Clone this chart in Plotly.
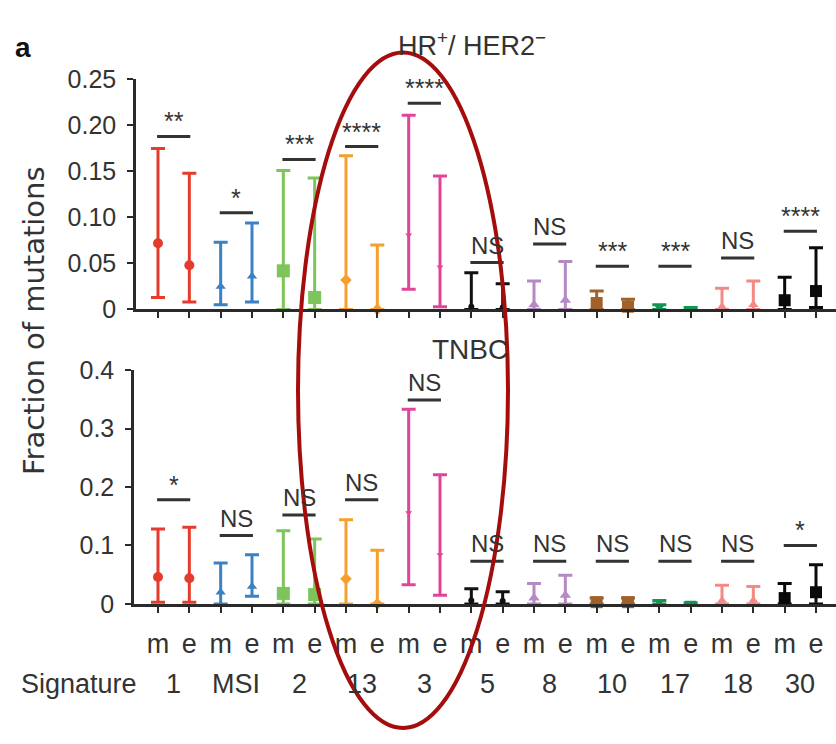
import plotly.graph_objects as go

W, H = 836, 744

# Signature groups, each with a metastatic (m) and early (e) sample
signatures = ["1", "MSI", "2", "13", "3", "5", "8", "10", "17", "18", "30"]
sample_labels = ["m", "e"]

colors = ["#e53b2c", "#3b82c4", "#7dc45b", "#f5a02c", "#e2449a", "#111111",
          "#b48ac4", "#a0612b", "#129650", "#f28a85", "#0a0a0a"]
symbols = ["circle", "triangle-up", "square", "diamond", "triangle-down", "circle",
           "triangle-up", "square", "triangle-down", "triangle-up", "square"]
marker_sizes = [10, 9, 13, 9, 6, 6, 10, 12, 10, 9, 12]

# HR+/HER2- : median, lower and upper bound per signature
hr_m_med = [0.072, 0.025, 0.042, 0.032, 0.081, 0.003, 0.005, 0.007, 0.003, 0.003, 0.010]
hr_m_lo = [0.013, 0.005, 0.0, 0.0, 0.022, 0.0, 0.0, 0.0, 0.0, 0.0, 0.0]
hr_m_hi = [0.175, 0.073, 0.151, 0.167, 0.211, 0.040, 0.031, 0.020, 0.005, 0.023, 0.035]
hr_e_med = [0.048, 0.036, 0.013, 0.0, 0.046, 0.002, 0.010, 0.003, 0.001, 0.005, 0.020]
hr_e_lo = [0.008, 0.008, 0.0, 0.0, 0.003, 0.0, 0.0, 0.0, 0.0, 0.0, 0.002]
hr_e_hi = [0.148, 0.094, 0.143, 0.070, 0.145, 0.028, 0.052, 0.011, 0.002, 0.031, 0.067]
hr_sig = ["**", "*", "***", "****", "****", "NS", "NS", "***", "***", "NS", "****"]
hr_sig_y = [0.188, 0.105, 0.163, 0.177, 0.224, 0.051, 0.071, 0.047, 0.047, 0.056, 0.085]

# TNBC
tn_m_med = [0.046, 0.020, 0.018, 0.043, 0.156, 0.006, 0.010, 0.003, 0.004, 0.006, 0.010]
tn_m_lo = [0.003, 0.0, 0.0, 0.0, 0.033, 0.0, 0.0, 0.0, 0.0, 0.0, 0.0]
tn_m_hi = [0.128, 0.070, 0.125, 0.144, 0.333, 0.026, 0.035, 0.010, 0.006, 0.032, 0.035]
tn_e_med = [0.044, 0.030, 0.016, 0.0, 0.084, 0.005, 0.015, 0.003, 0.001, 0.006, 0.020]
tn_e_lo = [0.003, 0.013, 0.0, 0.0, 0.015, 0.0, 0.0, 0.0, 0.0, 0.0, 0.0]
tn_e_hi = [0.131, 0.084, 0.111, 0.092, 0.221, 0.021, 0.049, 0.010, 0.002, 0.030, 0.067]
tn_sig = ["*", "NS", "NS", "NS", "NS", "NS", "NS", "NS", "NS", "NS", "*"]
tn_sig_y = [0.178, 0.117, 0.152, 0.178, 0.349, 0.073, 0.073, 0.073, 0.073, 0.073, 0.100]

hr_yticks = [0, 0.05, 0.10, 0.15, 0.20, 0.25]
hr_yticktext = ["0", "0.05", "0.10", "0.15", "0.20", "0.25"]
tn_yticks = [0, 0.1, 0.2, 0.3, 0.4]
tn_yticktext = ["0", "0.1", "0.2", "0.3", "0.4"]

FONT = "Liberation Sans, Arial, sans-serif"
AXIS_COL = "#2a2a2a"
TEXT_COL = "#333333"


def px_x(x):
    return x / W


def px_y(y):
    return 1 - y / H


fig = go.Figure()
annotations = []

panels = [
    ("x", "y", hr_m_med, hr_m_lo, hr_m_hi, hr_e_med, hr_e_lo, hr_e_hi, hr_sig, hr_sig_y),
    ("x2", "y2", tn_m_med, tn_m_lo, tn_m_hi, tn_e_med, tn_e_lo, tn_e_hi, tn_sig, tn_sig_y),
]

for xa, ya, m_med, m_lo, m_hi, e_med, e_lo, e_hi, sig, sig_y in panels:
    for i, name in enumerate(signatures):
        xs = [2 * i, 2 * i + 1]
        med = [m_med[i], e_med[i]]
        lo = [m_lo[i], e_lo[i]]
        hi = [m_hi[i], e_hi[i]]
        fig.add_trace(go.Scatter(
            x=xs, y=med, mode="markers", xaxis=xa, yaxis=ya,
            name=name, showlegend=False, cliponaxis=False,
            marker=dict(symbol=symbols[i], size=marker_sizes[i], color=colors[i],
                        line=dict(width=0)),
            error_y=dict(type="data", symmetric=False,
                         array=[h - m for h, m in zip(hi, med)],
                         arrayminus=[m - l for m, l in zip(med, lo)],
                         color=colors[i], thickness=3, width=7),
        ))
        # significance bar between the paired samples
        fig.add_trace(go.Scatter(
            x=[2 * i - 0.03, 2 * i + 1.03], y=[sig_y[i], sig_y[i]],
            mode="lines", xaxis=xa, yaxis=ya, showlegend=False, cliponaxis=False,
            line=dict(color=TEXT_COL, width=3), hoverinfo="skip",
        ))
        is_ns = sig[i] == "NS"
        annotations.append(dict(
            x=2 * i + 0.5, y=sig_y[i], xref=xa, yref=ya, text=sig[i],
            showarrow=False, yanchor="bottom", xanchor="center",
            yshift=2 if is_ns else -1,
            font=dict(family=FONT, size=24 if is_ns else 25, color=TEXT_COL),
        ))

# group labels under the lower panel
for i, name in enumerate(signatures):
    annotations.append(dict(
        x=2 * i + 0.5, y=px_y(696), xref="x2", yref="paper", text=name,
        showarrow=False, xanchor="center", yanchor="middle",
        font=dict(family=FONT, size=27, color=TEXT_COL),
    ))
annotations.append(dict(
    x=px_x(79), y=px_y(696), xref="paper", yref="paper", text="Signature",
    showarrow=False, xanchor="center", yanchor="middle",
    font=dict(family=FONT, size=27, color=TEXT_COL),
))

# panel titles, panel letter and shared y title
annotations += [
    dict(x=px_x(396), y=px_y(31), xref="paper", yref="paper",
         text="HR<sup>+</sup>/ HER2<sup>\u2212</sup>", showarrow=False,
         xanchor="left", yanchor="middle",
         font=dict(family=FONT, size=27, color=TEXT_COL)),
    dict(x=px_x(430), y=px_y(349), xref="paper", yref="paper", text="TNBC",
         showarrow=False, xanchor="left", yanchor="middle",
         font=dict(family=FONT, size=28, color=TEXT_COL)),
    dict(x=px_x(23), y=px_y(35), xref="paper", yref="paper", text="<b>a</b>",
         showarrow=False, xanchor="center", yanchor="middle",
         font=dict(family=FONT, size=28, color="#111111")),
    dict(x=px_x(34), y=px_y(319), xref="paper", yref="paper",
         text="Fraction of mutations", showarrow=False, textangle=-90,
         xanchor="center", yanchor="middle",
         font=dict(family="DejaVu Sans, sans-serif", size=29, color=TEXT_COL)),
]

n_pos = 2 * len(signatures)
unit = (816 - 158) / (n_pos - 1)
x_right = (n_pos - 1) + (836 - 816) / unit

common_x = dict(
    showline=True, linecolor=AXIS_COL, linewidth=2.5, ticks="outside",
    ticklen=6, tickwidth=2, tickcolor=AXIS_COL, showgrid=False, zeroline=False,
    tickvals=list(range(n_pos)), fixedrange=True,
)
common_y = dict(
    showline=True, linecolor=AXIS_COL, linewidth=2.5, ticks="outside",
    ticklen=6, tickwidth=2, tickcolor=AXIS_COL, showgrid=False, zeroline=False,
    tickfont=dict(family=FONT, size=25, color=TEXT_COL), ticklabelstandoff=6,
    fixedrange=True,
)

fig.update_layout(
    width=W, height=H, margin=dict(l=0, r=0, t=0, b=0),
    paper_bgcolor="white", plot_bgcolor="white", showlegend=False,
    xaxis=dict(common_x, domain=[px_x(136), 1], range=[-(158 - 136) / unit, x_right],
               anchor="y", showticklabels=False),
    yaxis=dict(common_y, domain=[px_y(307), px_y(68)], range=[0, 0.25],
               tickvals=hr_yticks, ticktext=hr_yticktext, anchor="x"),
    xaxis2=dict(common_x, domain=[px_x(134), 1], range=[-(158 - 134) / unit, x_right],
                anchor="y2", showticklabels=True,
                ticktext=sample_labels * len(signatures), ticklabelstandoff=8,
                tickfont=dict(family=FONT, size=27, color=TEXT_COL)),
    yaxis2=dict(common_y, domain=[px_y(613), px_y(370)], range=[0, 0.4],
                tickvals=tn_yticks, ticktext=tn_yticktext, anchor="x2"),
    annotations=annotations,
    shapes=[dict(type="circle", xref="paper", yref="paper", layer="above",
                 x0=px_x(298), x1=px_x(508), y0=px_y(742), y1=px_y(40),
                 line=dict(color="#a50d0d", width=4))],
)

fig.write_html("out.html")
